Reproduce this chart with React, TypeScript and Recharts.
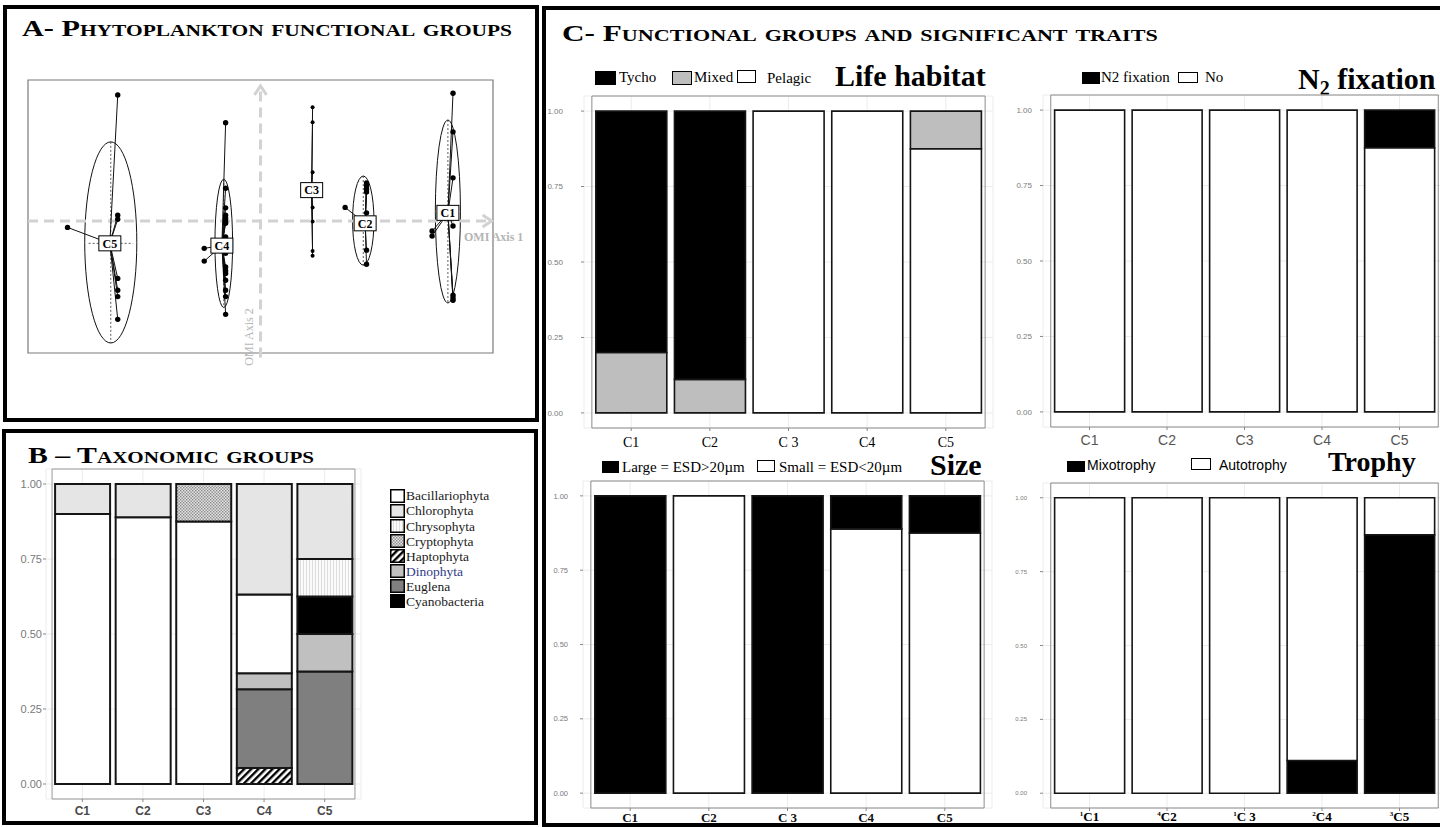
import React from 'react';
import {
  ScatterChart, Scatter, XAxis, YAxis, ReferenceLine, ReferenceArea,
  BarChart, Bar, CartesianGrid,
} from 'recharts';

const SERIF = "'Liberation Serif', 'Times New Roman', serif";
const SANS = "'Liberation Sans', Arial, sans-serif";

// ---------------- Panel A : OMI functional groups ----------------
const omiGroups = ['C1', 'C2', 'C3', 'C4', 'C5'];
const omiGroupX = [4.03, 2.25, 1.10, -0.83, -3.24];
const omiGroupY = [0.18, -0.05, 0.68, -0.54, -0.49];

const c1PointsX = [4.14, 4.14, 4.14, 4.14, 4.14, 4.14, 4.14, 3.69, 3.69];
const c1PointsY = [2.81, 1.96, 0.95, -0.11, -1.63, -1.69, -1.74, -0.22, -0.33];
const c2PointsX = [1.82, 2.28, 2.28, 2.28, 2.28, 2.28, 2.28, 2.28];
const c2PointsY = [0.30, 0.84, 0.77, 0.70, 0.64, 0.18, -0.64, -0.95];
const c3PointsX = [1.12, 1.12, 1.12, 1.12, 1.12, 1.12, 1.12];
const c3PointsY = [2.50, 2.17, 1.07, 0.30, -0.01, -0.66, -0.76];
const c4PointsX = [-0.75, -0.75, -0.75, -0.75, -0.75, -0.75, -0.75, -0.75, -0.75, -0.75, -0.75, -0.75, -0.75, -0.75, -0.75, -0.75, -1.21, -1.21];
const c4PointsY = [2.16, 0.72, 0.29, 0.13, 0.06, -0.01, -0.05, -0.35, -0.71, -1.01, -1.09, -1.15, -1.30, -1.52, -1.66, -2.05, -0.60, -0.88];
const c5PointsX = [-3.07, -3.07, -3.07, -4.15, -3.07, -3.07, -3.07, -3.07];
const c5PointsY = [2.77, 0.13, 0.04, -0.14, -1.26, -1.52, -1.66, -2.16];
const omiPointsX = [c1PointsX, c2PointsX, c3PointsX, c4PointsX, c5PointsX];
const omiPointsY = [c1PointsY, c2PointsY, c3PointsY, c4PointsY, c5PointsY];

const ellipseGroups = ['C1', 'C2', 'C4', 'C5'];
const ellipseCx = [4.03, 2.21, -0.79, -3.22];
const ellipseCy = [0.21, 0.01, -0.49, -0.47];
const ellipseRx = [0.27, 0.23, 0.19, 0.56];
const ellipseRy = [2.01, 0.98, 1.41, 2.21];

// ---------------- Panel B : taxonomic groups ----------------
const categories = ['C1', 'C2', 'C3', 'C4', 'C5'];
const bacillariophyta = [0.9, 0.889, 0.875, 0.263, 0];
const chlorophyta = [0.1, 0.111, 0, 0.368, 0.25];
const chrysophyta = [0, 0, 0, 0, 0.125];
const cryptophyta = [0, 0, 0.125, 0, 0];
const haptophyta = [0, 0, 0, 0.053, 0];
const dinophyta = [0, 0, 0, 0.053, 0.125];
const euglena = [0, 0, 0, 0.263, 0.375];
const cyanobacteria = [0, 0, 0, 0, 0.125];
const taxoLegend = ['Bacillariophyta', 'Chlorophyta', 'Chrysophyta', 'Cryptophyta', 'Haptophyta', 'Dinophyta', 'Euglena', 'Cyanobacteria'];
const taxoStackOrder = ['Haptophyta', 'Euglena', 'Dinophyta', 'Cyanobacteria', 'Bacillariophyta', 'Chrysophyta', 'Cryptophyta', 'Chlorophyta'];
const taxoValues: Record<string, number[]> = {
  Bacillariophyta: bacillariophyta, Chlorophyta: chlorophyta, Chrysophyta: chrysophyta,
  Cryptophyta: cryptophyta, Haptophyta: haptophyta, Dinophyta: dinophyta,
  Euglena: euglena, Cyanobacteria: cyanobacteria,
};
const taxoFill: Record<string, string> = {
  Bacillariophyta: '#ffffff', Chlorophyta: '#e5e5e5', Chrysophyta: 'url(#patChryso)',
  Cryptophyta: 'url(#patCrypto)', Haptophyta: 'url(#patHapto)', Dinophyta: '#c0c0c0',
  Euglena: '#7f7f7f', Cyanobacteria: '#000000',
};

// ---------------- Panel C : traits ----------------
const lifePelagic = [0, 0, 1, 1, 0.875];
const lifeMixed = [0.2, 0.111, 0, 0, 0.125];
const lifeTycho = [0.8, 0.889, 0, 0, 0];
const n2No = [1, 1, 1, 1, 0.875];
const n2Fixation = [0, 0, 0, 0, 0.125];
const sizeSmall = [0, 1, 0, 0.889, 0.875];
const sizeLarge = [1, 0, 1, 0.111, 0.125];
const trophyMixo = [0, 0, 0, 0.111, 0.875];
const trophyAuto = [1, 1, 1, 0.889, 0.125];

const lifeTickLabels = ['C1', 'C2', 'C 3', 'C4', 'C5'];
const n2TickLabels = ['C1', 'C2', 'C3', 'C4', 'C5'];
const sizeTickLabels = ['C1', 'C2', 'C 3', 'C4', 'C5'];
const trophyTickLabels = ['C1', 'C2', 'C 3', 'C4', 'C5'];
const trophyTickSup = ['1', '4', '1', '2', '3'];
const yTicks = [0, 0.25, 0.5, 0.75, 1];

const taxoData = categories.map((cat, i) => {
  const row: Record<string, any> = { cat };
  taxoStackOrder.forEach((k) => { row[k] = taxoValues[k][i]; });
  return row;
});
const lifeData = categories.map((cat, i) => ({ cat, Pelagic: lifePelagic[i], Mixed: lifeMixed[i], Tycho: lifeTycho[i] }));
const n2Data = categories.map((cat, i) => ({ cat, No: n2No[i], N2: n2Fixation[i] }));
const sizeData = categories.map((cat, i) => ({ cat, Small: sizeSmall[i], Large: sizeLarge[i] }));
const trophyData = categories.map((cat, i) => ({ cat, Mixotrophy: trophyMixo[i], Autotrophy: trophyAuto[i] }));

// ---------------- helpers ----------------
function Txt(props: any) {
  const { x, baseline, size, children, family = SERIF, weight = 'normal', color = '#000', style = {} } = props;
  return (
    <div style={{
      position: 'absolute', left: x, top: baseline - 0.84 * size, fontSize: size,
      lineHeight: `${size}px`, fontFamily: family, fontWeight: weight, color,
      whiteSpace: 'nowrap', ...style,
    }}>{children}</div>
  );
}

function Box(props: any) {
  const { x1, x2, y1, y2, fill } = props;
  return (
    <div style={{
      position: 'absolute', left: x1, top: y1, width: x2 - x1, height: y2 - y1,
      background: fill, border: '1.5px solid #000', boxSizing: 'border-box',
    }} />
  );
}

const arrowShape = (p: any) => {
  const x1 = +p.x1, y1 = +p.y1, x2 = +p.x2, y2 = +p.y2;
  const dx = x2 - x1, dy = y2 - y1;
  const len = Math.hypot(dx, dy) || 1;
  const ux = dx / len, uy = dy / len;
  const hx = x2 - ux * 9, hy = y2 - uy * 9;
  const nx = -uy * 6, ny = ux * 6;
  return (
    <g>
      <line x1={x1} y1={y1} x2={x2} y2={y2} stroke="#d2d2d2" strokeWidth={3} strokeDasharray="10 6" />
      <polyline points={`${hx + nx},${hy + ny} ${x2},${y2} ${hx - nx},${hy - ny}`} fill="none" stroke="#d2d2d2" strokeWidth={3} />
    </g>
  );
};

const ellipseShape = (p: any) => (
  <ellipse cx={p.x + p.width / 2} cy={p.y + p.height / 2} rx={Math.abs(p.width) / 2} ry={Math.abs(p.height) / 2}
    fill="none" stroke="#111" strokeWidth={1} />
);

const dotShape = (p: any) => (
  <circle cx={p.cx} cy={p.cy} r={p.payload && p.payload.g === 2 ? 2 : 2.7} fill="#000" />
);

const labelShape = (p: any) => (
  <g>
    <rect x={p.cx - 11} y={p.cy - 7.5} width={22} height={15} fill="#fff" stroke="#000" strokeWidth={1} />
    <text x={p.cx} y={p.cy + 4.3} textAnchor="middle" fontFamily={SERIF} fontWeight="bold" fontSize={12} fill="#000">
      {p.payload && p.payload.name}
    </text>
  </g>
);

const omiPoints = omiPointsX.flatMap((xs, g) => xs.map((x, i) => ({ x, y: omiPointsY[g][i], g })));
const omiLabels = omiGroups.map((name, i) => ({ x: omiGroupX[i], y: omiGroupY[i], name }));

function OmiPanel() {
  return (
    <div style={{ position: 'absolute', left: 20, top: 70 }}>
      <ScatterChart width={520} height={320} margin={{ top: 10, right: 47, bottom: 37, left: 8 }}>
        <XAxis type="number" dataKey="x" domain={[-5, 5]} hide allowDataOverflow />
        <YAxis type="number" dataKey="y" domain={[-2.9, 3.1]} hide allowDataOverflow />
        <ReferenceArea x1={-5} x2={5} y1={-2.9} y2={3.1} fill="none" stroke="#7a7a7a" strokeWidth={1.2} ifOverflow="visible" />
        <ReferenceLine segment={[{ x: -5, y: 0 }, { x: 4.97, y: 0 }]} ifOverflow="visible" shape={arrowShape} />
        <ReferenceLine segment={[{ x: 0, y: -3.0 }, { x: 0, y: 2.97 }]} ifOverflow="visible" shape={arrowShape} />
        {ellipseGroups.map((g, i) => (
          <ReferenceArea key={`e${g}`} x1={ellipseCx[i] - ellipseRx[i]} x2={ellipseCx[i] + ellipseRx[i]}
            y1={ellipseCy[i] - ellipseRy[i]} y2={ellipseCy[i] + ellipseRy[i]} ifOverflow="visible" shape={ellipseShape} />
        ))}
        {ellipseGroups.map((g, i) => (
          <ReferenceLine key={`v${g}`} segment={[{ x: ellipseCx[i], y: ellipseCy[i] + ellipseRy[i] }, { x: ellipseCx[i], y: ellipseCy[i] - ellipseRy[i] }]}
            ifOverflow="visible" stroke="#333" strokeWidth={0.8} strokeDasharray="2 2" />
        ))}
        <ReferenceLine segment={[{ x: ellipseCx[3] - 0.85 * ellipseRx[3], y: omiGroupY[4] }, { x: ellipseCx[3] + 0.85 * ellipseRx[3], y: omiGroupY[4] }]}
          ifOverflow="visible" stroke="#333" strokeWidth={0.8} strokeDasharray="2 2" />
        {omiPoints.map((pt, k) => (
          <ReferenceLine key={`s${k}`} segment={[{ x: omiGroupX[pt.g], y: omiGroupY[pt.g] }, { x: pt.x, y: pt.y }]}
            ifOverflow="visible" stroke="#111" strokeWidth={1} />
        ))}
        <Scatter data={omiPoints} shape={dotShape} isAnimationActive={false} />
        <Scatter data={omiLabels} shape={labelShape} isAnimationActive={false} />
      </ScatterChart>
    </div>
  );
}

function StackPanel(props: any) {
  const {
    left, top, width, height, marginTop, marginRight, yAxisWidth, xAxisHeight, data, series,
    xTick, xTickFormatter, yTickFontSize, yTickMargin, xTickMargin, barStroke, frameColor,
  } = props;
  const plotW = width - yAxisWidth - marginRight;
  const pad = plotW / 52;
  return (
    <div style={{ position: 'absolute', left, top }}>
      <BarChart width={width} height={height} data={data}
        margin={{ top: marginTop, right: marginRight, left: 0, bottom: 0 }} barCategoryGap="5%">
        <CartesianGrid stroke="#ececec" strokeWidth={1} />
        <ReferenceArea y1={-0.05} y2={1.05} fill="none" stroke={frameColor} strokeWidth={1} ifOverflow="visible" />
        <XAxis dataKey="cat" height={xAxisHeight} padding={{ left: pad, right: pad }} axisLine={false}
          tickLine={{ stroke: '#888' }} tickSize={3} tickMargin={xTickMargin} tick={xTick}
          tickFormatter={xTickFormatter} interval={0} />
        <YAxis type="number" width={yAxisWidth} domain={[-0.05, 1.05]} ticks={yTicks} allowDataOverflow
          axisLine={false} tickLine={{ stroke: '#888' }} tickSize={3} tickMargin={yTickMargin}
          tick={{ fontSize: yTickFontSize, fill: '#7a7a7a', fontFamily: SANS }}
          tickFormatter={(v: number) => v.toFixed(2)} />
        {series.map((s: any) => (
          <Bar key={s.key} dataKey={s.key} stackId="s" fill={s.fill} stroke="#151515"
            strokeWidth={barStroke} isAnimationActive={false} />
        ))}
      </BarChart>
    </div>
  );
}

const TrophyTick = (p: any) => {
  const idx = categories.indexOf(p.payload.value);
  const base = p.y + 9;
  return (
    <text x={p.x} y={base} textAnchor="middle" fontFamily={SERIF} fontWeight="bold" fill="#000">
      <tspan fontSize={7} dy={-5}>{trophyTickSup[idx]}</tspan>
      <tspan fontSize={13} dy={5}>{trophyTickLabels[idx]}</tspan>
    </text>
  );
};

export default function App() {
  const border = '4px solid #000';
  const titleStyle = (sx: number) => ({ fontVariant: 'small-caps', transform: `scaleX(${sx})`, transformOrigin: 'left center' });
  return (
    <div style={{ position: 'absolute', left: 0, top: 0, width: 1440, height: 827, overflow: 'hidden', background: '#fff', fontFamily: SERIF }}>
      <svg width={0} height={0} style={{ position: 'absolute' }}>
        <defs>
          <pattern id="patChryso" width="3" height="3" patternUnits="userSpaceOnUse">
            <rect width="3" height="3" fill="#fbfbfb" />
            <line x1="0.5" y1="0" x2="0.5" y2="3" stroke="#d6d6d6" strokeWidth="0.8" />
          </pattern>
          <pattern id="patCrypto" width="3" height="3" patternUnits="userSpaceOnUse">
            <rect width="3" height="3" fill="#e2e2e2" />
            <rect x="0" y="0" width="1.4" height="1.4" fill="#8a8a8a" />
            <rect x="1.5" y="1.5" width="1.4" height="1.4" fill="#8a8a8a" />
          </pattern>
          <pattern id="patHapto" width="5" height="5" patternUnits="userSpaceOnUse" patternTransform="rotate(45)">
            <rect width="5" height="5" fill="#fff" />
            <line x1="1.2" y1="0" x2="1.2" y2="5" stroke="#000" strokeWidth="2.4" />
          </pattern>
        </defs>
      </svg>

      {/* panel borders */}
      <div style={{ position: 'absolute', left: 3, top: 5, width: 536, height: 417, border, boxSizing: 'border-box' }} />
      <div style={{ position: 'absolute', left: 2, top: 429, width: 536, height: 396, border, boxSizing: 'border-box' }} />
      <div style={{ position: 'absolute', left: 542, top: 6, width: 910, height: 821, border, boxSizing: 'border-box' }} />

      {/* Panel A */}
      <Txt x={22} baseline={36} size={24} weight="bold" style={titleStyle(1.26)}>A- Phytoplankton functional groups</Txt>
      <OmiPanel />
      <Txt x={464} baseline={241} size={12} weight="bold" color="#b5b5b5">OMI Axis 1</Txt>
      <div style={{
        position: 'absolute', left: 218, top: 330, width: 62, height: 14, fontSize: 12, lineHeight: '14px',
        fontFamily: SERIF, color: '#b5b5b5', textAlign: 'center', whiteSpace: 'nowrap', transform: 'rotate(-90deg)',
      }}>OMI Axis 2</div>

      {/* Panel B */}
      <Txt x={28} baseline={463} size={24} weight="bold" style={titleStyle(1.24)}>B – Taxonomic groups</Txt>
      <StackPanel left={0} top={460} width={375} height={361} marginTop={9} marginRight={14} yAxisWidth={46}
        xAxisHeight={22} data={taxoData} series={taxoStackOrder.map((k) => ({ key: k, fill: taxoFill[k] }))}
        xTick={{ fontSize: 12, fontWeight: 'bold', fill: '#4a4a4a', fontFamily: SANS }}
        yTickFontSize={11} yTickMargin={1} xTickMargin={4} barStroke={2} frameColor="#9a9a9a" />
      {taxoLegend.map((name, i) => {
        const c = 495.7 + 15.1 * i;
        return (
          <React.Fragment key={name}>
            <svg width={15} height={14} style={{ position: 'absolute', left: 390, top: c - 7 }}>
              <rect x={0.75} y={0.75} width={13.5} height={12.5} fill={taxoFill[name]} stroke="#000" strokeWidth={1.5} />
            </svg>
            <Txt x={406} baseline={c + 5} size={13.5} color={name === 'Dinophyta' ? '#303a86' : '#1a1a1a'}>{name}</Txt>
          </React.Fragment>
        );
      })}

      {/* Panel C */}
      <Txt x={562} baseline={41} size={24} weight="bold" style={titleStyle(1.3)}>C- Functional groups and significant traits</Txt>

      {/* Life habitat */}
      <Box x1={595} x2={616} y1={71} y2={85} fill="#000" />
      <Txt x={619} baseline={83} size={15}>Tycho</Txt>
      <Box x1={672} x2={692} y1={71} y2={85} fill="#bebebe" />
      <Txt x={694} baseline={83} size={15}>Mixed</Txt>
      <Box x1={737} x2={756} y1={70} y2={83} fill="#fff" />
      <Txt x={767} baseline={84} size={15}>Pelagic</Txt>
      <Txt x={835} baseline={86} size={30} weight="bold">Life habitat</Txt>
      <StackPanel left={540} top={90} width={460} height={365} marginTop={6} marginRight={7} yAxisWidth={44}
        xAxisHeight={27} data={lifeData}
        series={[{ key: 'Pelagic', fill: '#ffffff' }, { key: 'Mixed', fill: '#bebebe' }, { key: 'Tycho', fill: '#000000' }]}
        xTick={{ fontSize: 14, fill: '#000', fontFamily: SERIF }}
        xTickFormatter={(v: string, i: number) => lifeTickLabels[i]}
        yTickFontSize={8} yTickMargin={18} xTickMargin={5.7} barStroke={1.6} frameColor="#8c8c8c" />

      {/* N2 fixation */}
      <Box x1={1082} x2={1100} y1={72} y2={84} fill="#000" />
      <Txt x={1101} baseline={83} size={15}>N2 fixation</Txt>
      <Box x1={1178} x2={1198} y1={72} y2={83} fill="#fff" />
      <Txt x={1205} baseline={83} size={15}>No</Txt>
      <Txt x={1298} baseline={89} size={30} weight="bold">N<sub style={{ fontSize: 20, verticalAlign: '-6px', lineHeight: 0 }}>2</sub> fixation</Txt>
      <StackPanel left={1000} top={89} width={450} height={365} marginTop={6} marginRight={4} yAxisWidth={43}
        xAxisHeight={27} data={n2Data}
        series={[{ key: 'No', fill: '#ffffff' }, { key: 'N2', fill: '#000000' }]}
        xTick={{ fontSize: 14, fill: '#555', fontFamily: SANS }}
        xTickFormatter={(v: string, i: number) => n2TickLabels[i]}
        yTickFontSize={8} yTickMargin={8} xTickMargin={5} barStroke={1.6} frameColor="#8c8c8c" />

      {/* Size */}
      <Box x1={602} x2={619} y1={461} y2={473} fill="#000" />
      <Txt x={622} baseline={473} size={15}>Large = ESD&gt;20µm</Txt>
      <Box x1={757} x2={775} y1={460} y2={472} fill="#fff" />
      <Txt x={779} baseline={473} size={15}>Small = ESD&lt;20µm</Txt>
      <Txt x={930} baseline={475} size={30} weight="bold">Size</Txt>
      <StackPanel left={540} top={475} width={460} height={360} marginTop={6} marginRight={8} yAxisWidth={43}
        xAxisHeight={27} data={sizeData}
        series={[{ key: 'Small', fill: '#ffffff' }, { key: 'Large', fill: '#000000' }]}
        xTick={{ fontSize: 13, fontWeight: 'bold', fill: '#111', fontFamily: SERIF }}
        xTickFormatter={(v: string, i: number) => sizeTickLabels[i]}
        yTickFontSize={7.5} yTickMargin={12} xTickMargin={2} barStroke={1.6} frameColor="#8c8c8c" />

      {/* Trophy */}
      <Box x1={1067} x2={1085} y1={461} y2={472} fill="#000" />
      <Txt x={1087} baseline={470} size={14} family={SANS}>Mixotrophy</Txt>
      <Box x1={1191} x2={1211} y1={458} y2={470} fill="#fff" />
      <Txt x={1219} baseline={470} size={14} family={SANS}>Autotrophy</Txt>
      <Txt x={1328} baseline={472} size={28} weight="bold">Trophy</Txt>
      <StackPanel left={1000} top={477} width={450} height={358} marginTop={6} marginRight={4} yAxisWidth={43}
        xAxisHeight={27} data={trophyData}
        series={[{ key: 'Mixotrophy', fill: '#000000' }, { key: 'Autotrophy', fill: '#ffffff' }]}
        xTick={TrophyTick}
        yTickFontSize={6} yTickMargin={13} xTickMargin={1} barStroke={1.6} frameColor="#8c8c8c" />
    </div>
  );
}
